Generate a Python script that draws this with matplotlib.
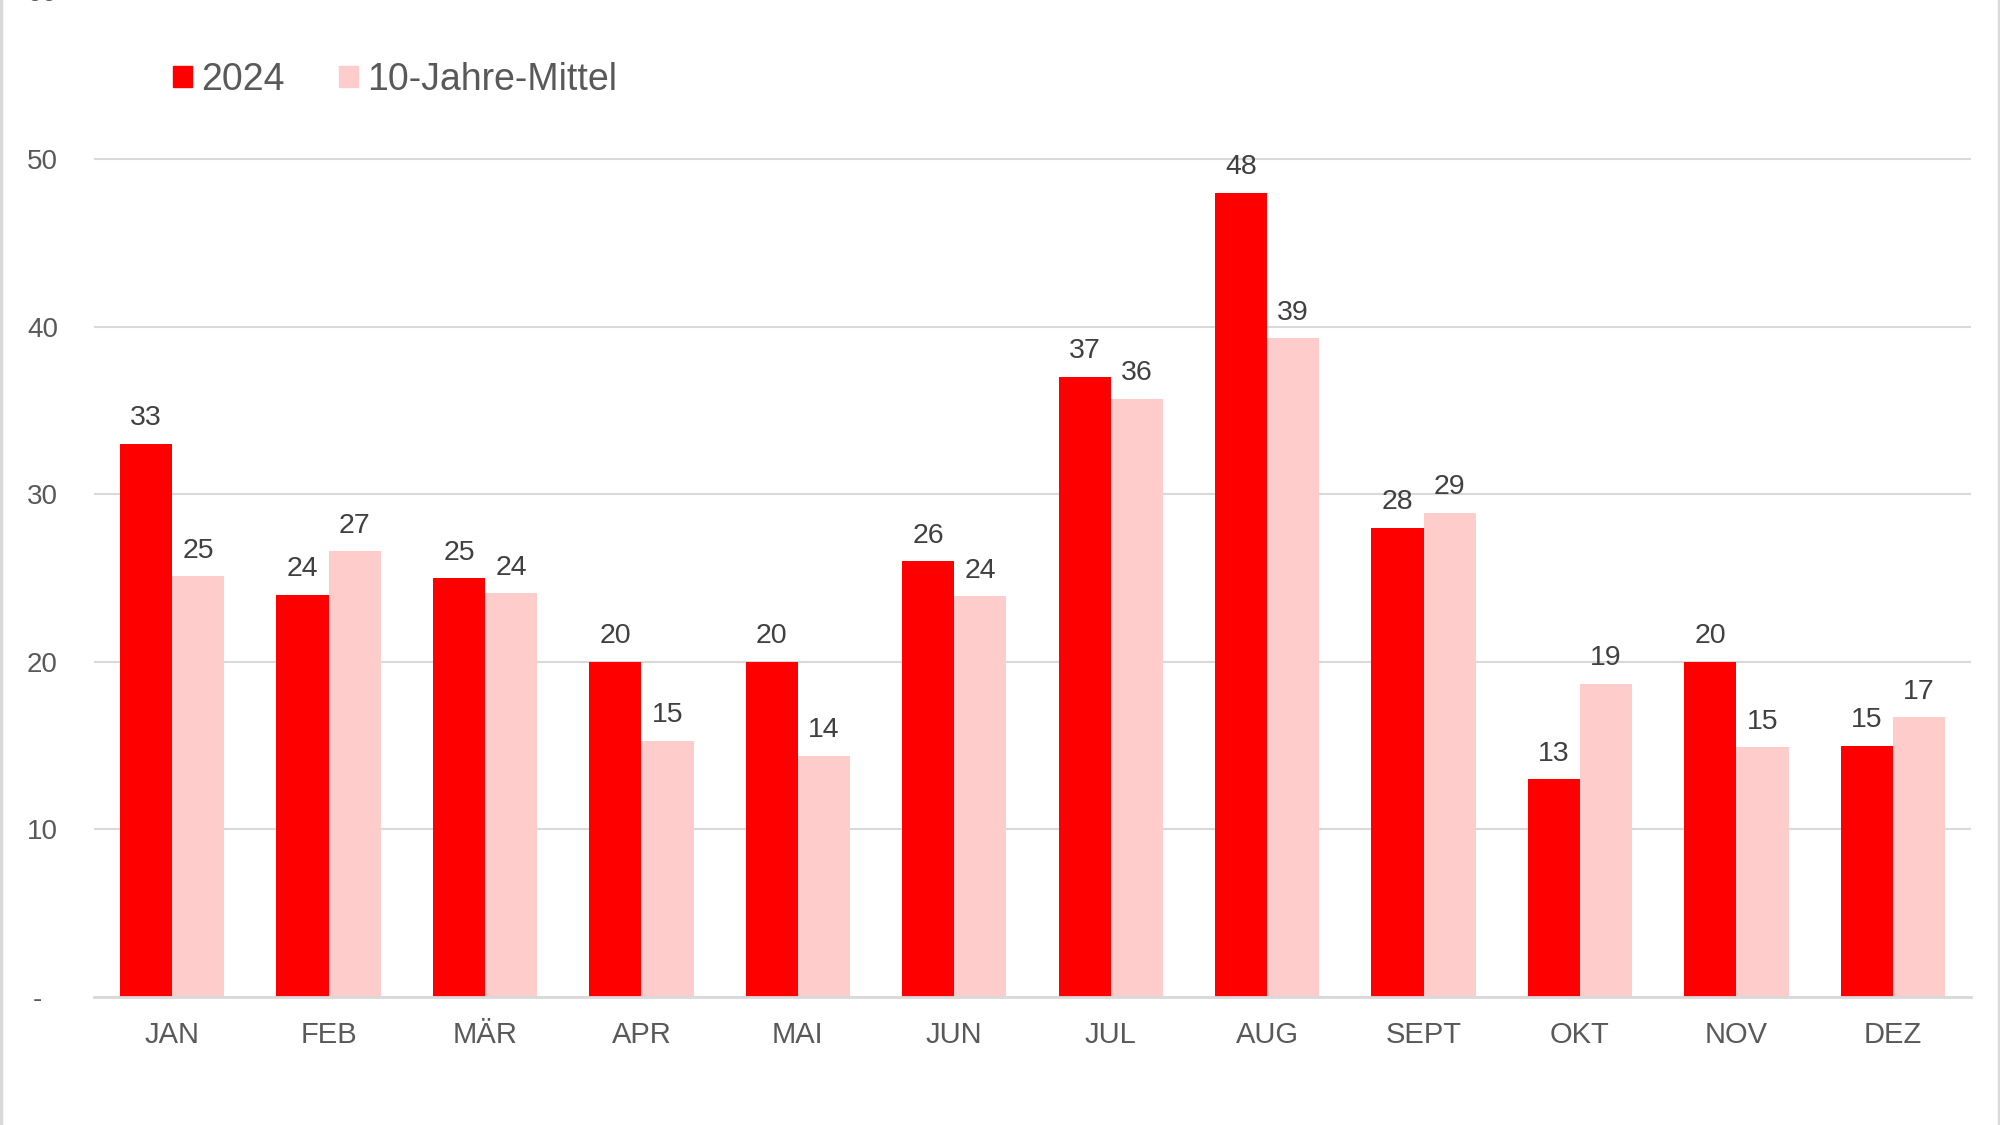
import numpy as np
import matplotlib
import matplotlib.pyplot as plt
import matplotlib.patches as mpatches
from matplotlib.lines import Line2D

matplotlib.use('Agg')
plt.rcParams['font.family'] = ['Liberation Sans', 'DejaVu Sans']

# monthly values
months = ['JAN', 'FEB', 'MÄR', 'APR', 'MAI', 'JUN', 'JUL', 'AUG', 'SEPT', 'OKT', 'NOV', 'DEZ']
values_2024 = [33, 24, 25, 20, 20, 26, 37, 48, 28, 13, 20, 15]
values_mean = [25.1, 26.6, 24.1, 15.3, 14.4, 23.9, 35.7, 39.3, 28.9, 18.7, 14.9, 16.7]

y_ticks = [0, 10, 20, 30, 40, 50, 60]
y_tick_labels = ['-  ', '10', '20', '30', '40', '50', '60']

red = '#FF0000'
pink = '#FFCCCC'
grid_grey = '#D9D9D9'
tick_grey = '#595959'
label_grey = '#404040'

fig = plt.figure(figsize=(20, 11.25), dpi=100)
ax = fig.add_axes([0.047, 0.1138, 0.9385, 0.8938])

x = np.arange(len(months))
w = 1 / 3
bars1 = ax.bar(x - w / 2, values_2024, width=w, color=red, label='2024', zorder=3)
bars2 = ax.bar(x + w / 2, values_mean, width=w, color=pink, label='10-Jahre-Mittel', zorder=3)

# data labels, rounded like in the original
for bars in (bars1, bars2):
    ax.bar_label(bars, labels=[f'{v:.0f}' for v in bars.datavalues], padding=9,
                 fontsize=20.5, color=label_grey)

ax.set_xlim(-0.5, len(months) - 0.5)
ax.set_ylim(0, 60)
ax.set_yticks(y_ticks)
ax.set_yticklabels(y_tick_labels)
ax.set_xticks(x)
ax.set_xticklabels(months)

ax.grid(axis='y', color=grid_grey, linewidth=1.5, zorder=0)
for side in ('top', 'right', 'left'):
    ax.spines[side].set_visible(False)
ax.spines['bottom'].set_color(grid_grey)
ax.spines['bottom'].set_linewidth(2)
ax.spines['bottom'].set_zorder(4)

ax.tick_params(axis='x', length=0, pad=17, labelsize=21, labelcolor=tick_grey)
ax.tick_params(axis='y', length=0, pad=26, labelsize=20, labelcolor=tick_grey)

# legend top left
handles = [mpatches.Patch(color=red, label='2024'),
           mpatches.Patch(color=pink, label='10-Jahre-Mittel')]
leg = fig.legend(handles=handles, loc='center left', bbox_to_anchor=(173 / 2000, 1 - 80 / 1125),
                 ncol=2, frameon=False, fontsize=27, handlelength=0.5, handleheight=0.5,
                 handletextpad=0.25, columnspacing=1.45, borderpad=0, borderaxespad=0)
for t in leg.get_texts():
    t.set_color(tick_grey)

# thin frame lines at the left and right edge of the picture
fig.add_artist(Line2D([0.0007, 0.0007], [0, 1], color=grid_grey, linewidth=2.5))
fig.add_artist(Line2D([0.9993, 0.9993], [0, 1], color=grid_grey, linewidth=2.5))

fig.savefig('out.png', dpi=100)
